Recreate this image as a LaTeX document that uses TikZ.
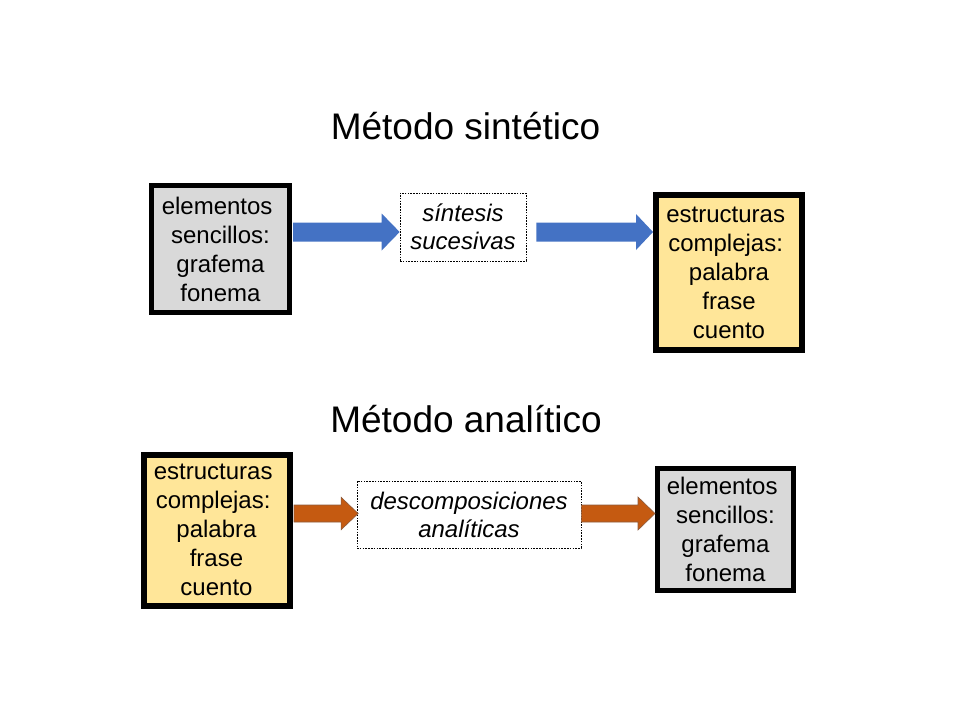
\documentclass[tikz,border=0pt]{standalone}
\usepackage{fontspec}
\setmainfont{Liberation Sans}
\usetikzlibrary{calc}
\definecolor{grayfill}{HTML}{D9D9D9}
\definecolor{yellowfill}{HTML}{FFE699}
\definecolor{arrowblue}{HTML}{4472C4}
\definecolor{arroworange}{HTML}{C55A11}
\definecolor{orangeedge}{HTML}{8C5A3C}
\newcommand\myblockarrow[6]{%
  \fill[#1] let \p1=(#2), \p2=(#3) in
    (\x1,\y1+#4pt) -- (\x2-#6pt,\y1+#4pt) -- (\x2-#6pt,\y1+#5pt) -- (\x2,\y1)
    -- (\x2-#6pt,\y1-#5pt) -- (\x2-#6pt,\y1-#4pt) -- (\x1,\y1-#4pt) -- cycle;}
\newcommand\trsp{\kern6.7pt}
\begin{document}
\begin{tikzpicture}[x=1pt,y=-1pt,
  titletext/.style={anchor=base,font=\fontsize{37}{44}\selectfont,inner sep=0pt},
  boxtext/.style={font=\fontsize{24}{29}\selectfont,align=center,inner sep=0pt,rectangle},
  graybox/.style={boxtext,draw=black,line width=5pt,fill=grayfill},
  yellowbox/.style={boxtext,draw=black,line width=6pt,fill=yellowfill},
  dashbox/.style={boxtext,draw=black,line width=0.7pt,dash pattern=on 1.6pt off 1.2pt,fill=white,font=\fontsize{24}{28}\selectfont\itshape},
  bluearrow/.style={fill=arrowblue},
  orangearrow/.style={fill=arroworange,draw=orangeedge,line width=0.6pt}]
\useasboundingbox (0,0) rectangle (960,720);
\fill[white] (0,0) rectangle (960,720);

% titles
\node[titletext] (t1) at (465.5,139) {Método sintético};
\node[titletext] (t2) at (466,432) {Método analítico};

% top row
\node[graybox,minimum width=138pt,minimum height=127pt] (g1) at (220.5,249)
  {elementos\trsp\\sencillos:\\grafema\\fonema};
\node[dashbox,minimum width=126pt,minimum height=68pt] (d1) at (463,227)
  {síntesis\\sucesivas};
\node[yellowbox,minimum width=146pt,minimum height=155pt] (y1) at (729,272.5)
  {estructuras\trsp\\complejas:\trsp\\palabra\\frase\\cuento};

% bottom row
\node[yellowbox,minimum width=146pt,minimum height=151pt] (y2) at (216.5,530)
  {estructuras\trsp\\complejas:\trsp\\palabra\\frase\\cuento};
\node[dashbox,minimum width=224pt,minimum height=67pt] (d2) at (469,514.5)
  {descomposiciones\\analíticas};
\node[graybox,minimum width=136pt,minimum height=122pt] (g2) at (725.5,529.5)
  {elementos\trsp\\sencillos:\\grafema\\fonema};

% arrow levels
\coordinate (r1) at (0,232);
\coordinate (r2) at (0,513.5);
\coordinate (a1s) at ($(g1.east |- r1)+(1,0)$);
\coordinate (a1e) at ($(d1.west |- r1)$);
\coordinate (a2s) at ($(d1.east |- r1)+(10,0)$);
\coordinate (a2e) at ($(y1.west |- r1)$);
\coordinate (b1s) at ($(y2.east |- r2)+(1.5,0)$);
\coordinate (b1e) at ($(d2.west |- r2)+(1.5,0)$);
\coordinate (b2s) at ($(d2.east |- r2)$);
\coordinate (b2e) at ($(g2.west |- r2)$);

\myblockarrow{bluearrow}{a1s}{a1e}{9.5}{18.5}{18}
\myblockarrow{bluearrow}{a2s}{a2e}{9.5}{18}{17}
\myblockarrow{orangearrow}{b1s}{b1e}{8.5}{16.2}{17}
\myblockarrow{orangearrow}{b2s}{b2e}{8.5}{16.5}{17}
\end{tikzpicture}
\end{document}
